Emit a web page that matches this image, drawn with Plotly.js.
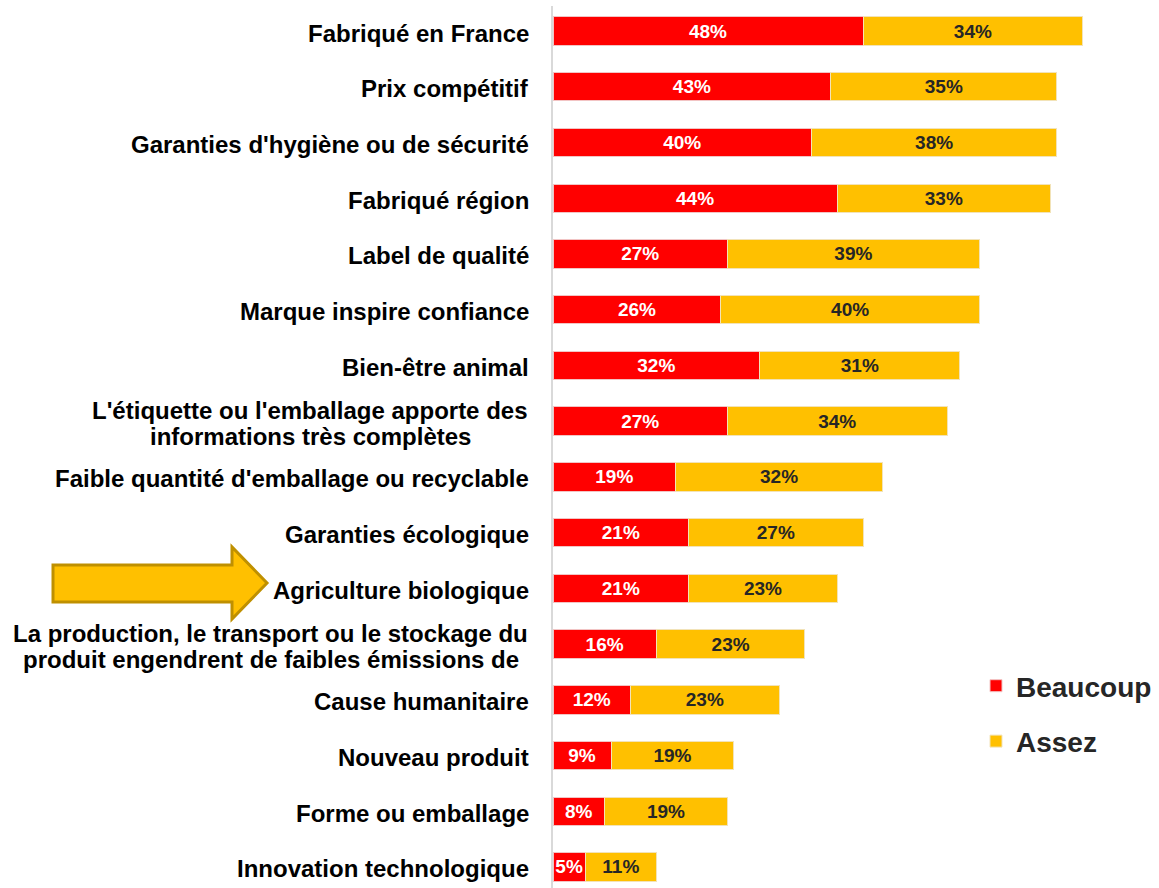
<!DOCTYPE html>
<html>
<head>
<meta charset="utf-8">
<script src="https://cdn.plot.ly/plotly-3.0.1.min.js"></script>
<style>
html,body{margin:0;padding:0;background:#fff;}
#chart{width:1159px;height:888px;}
</style>
</head>
<body>
<div id="chart"></div>
<script>
const categories = [
  "Fabriqué en France",
  "Prix compétitif",
  "Garanties d'hygiène ou de sécurité",
  "Fabriqué région",
  "Label de qualité",
  "Marque inspire confiance",
  "Bien-être animal",
  "L'étiquette ou l'emballage apporte des<br>informations très complètes",
  "Faible quantité d'emballage ou recyclable",
  "Garanties écologique",
  "Agriculture biologique",
  "La production, le transport ou le stockage du<br>produit engendrent de faibles émissions de",
  "Cause humanitaire",
  "Nouveau produit",
  "Forme ou emballage",
  "Innovation technologique"
];
const beaucoup = [48, 43, 40, 44, 27, 26, 32, 27, 19, 21, 21, 16, 12, 9, 8, 5];
const assez    = [34, 35, 38, 33, 39, 40, 31, 34, 32, 27, 23, 23, 23, 19, 19, 11];
const seriesNames = ["Beaucoup", "Assez"];

const W = 1159, H = 888;
const ML = 553, MR = 9, MT = 6, MB = 0;
const PW = W - ML - MR, PH = H - MT - MB;
const FONT = "Liberation Sans, Arial, sans-serif";
const LABEL_SIZE = 24;
const LABEL_RIGHT = 531;
const LINE_GAP = 26;

function px2x(px){ return (px - ML) / PW; }
function py2y(py){ return (H - MB - py) / PH; }

const canvas = document.createElement('canvas');
const ctx = canvas.getContext('2d');
ctx.font = 'bold ' + LABEL_SIZE + 'px "Liberation Sans", Arial, sans-serif';

const common = {
  type: 'bar',
  orientation: 'h',
  y: categories,
  width: 0.51,
  textposition: 'inside',
  insidetextanchor: 'middle',
  constraintext: 'none',
  texttemplate: '%{x}%',
  hoverinfo: 'skip',
  cliponaxis: false
};

const traces = [
  Object.assign({}, common, {
    name: seriesNames[0],
    x: beaucoup,
    legendgroup: 'a',
    marker: {color: '#FF0000', line: {color: '#F2C4C4', width: 1}},
    insidetextfont: {family: FONT, size: 19, color: '#FFFFFF', weight: 'bold'}
  }),
  Object.assign({}, common, {
    name: seriesNames[1],
    x: assez,
    legendgroup: 'b',
    marker: {color: '#FFC000', line: {color: '#F2E3B8', width: 1}},
    insidetextfont: {family: FONT, size: 19, color: '#262626', weight: 'bold'}
  })
];

const annotations = [];
categories.forEach(c => {
  const lines = c.split('<br>');
  const n = lines.length;
  const maxW = Math.max.apply(null, lines.map(l => ctx.measureText(l).width));
  lines.forEach((l, i) => {
    const ann = {
      xref: 'paper', yref: 'y',
      y: c,
      yanchor: 'middle',
      yshift: -2 + ((n - 1) / 2 - i) * LINE_GAP,
      text: l,
      showarrow: false,
      font: {family: FONT, size: LABEL_SIZE, color: '#000000', weight: 'bold'}
    };
    if (n === 1) {
      ann.x = px2x(LABEL_RIGHT);
      ann.xanchor = 'right';
    } else {
      ann.x = px2x(LABEL_RIGHT - 3 - maxW / 2);
      ann.xanchor = 'center';
    }
    annotations.push(ann);
  });
});

const arrowPts = [[53,565],[232,565],[232,547],[267,583],[232,619],[232,602],[53,602]];
const arrowPath = 'M' + arrowPts.map(p => px2x(p[0]).toFixed(5) + ',' + py2y(p[1]).toFixed(5)).join(' L') + ' Z';

const layout = {
  width: W, height: H,
  margin: {l: ML, r: MR, t: MT, b: MB, pad: 0},
  paper_bgcolor: '#FFFFFF',
  plot_bgcolor: '#FFFFFF',
  barmode: 'stack',
  showlegend: true,
  legend: {
    x: px2x(976), xanchor: 'left',
    y: py2y(661), yanchor: 'top',
    traceorder: 'grouped',
    tracegroupgap: 16,
    font: {family: FONT, size: 28, color: '#262626', weight: 'bold'},
    bgcolor: 'rgba(0,0,0,0)',
    borderwidth: 0
  },
  xaxis: {
    range: [0, PW / 6.46],
    showgrid: false, zeroline: false, showticklabels: false, showline: false, ticks: ''
  },
  yaxis: {
    type: 'category',
    range: [15.377, -0.449],
    showgrid: false, zeroline: false, showticklabels: false,
    showline: true, linecolor: '#D9D9D9', linewidth: 2, ticks: ''
  },
  annotations: annotations,
  shapes: [{
    type: 'path', xref: 'paper', yref: 'paper',
    path: arrowPath,
    fillcolor: '#FFC000',
    line: {color: '#BF9000', width: 3},
    layer: 'above'
  }],
  font: {family: FONT}
};

Plotly.newPlot('chart', traces, layout, {displayModeBar: false, staticPlot: true});
</script>
</body>
</html>
